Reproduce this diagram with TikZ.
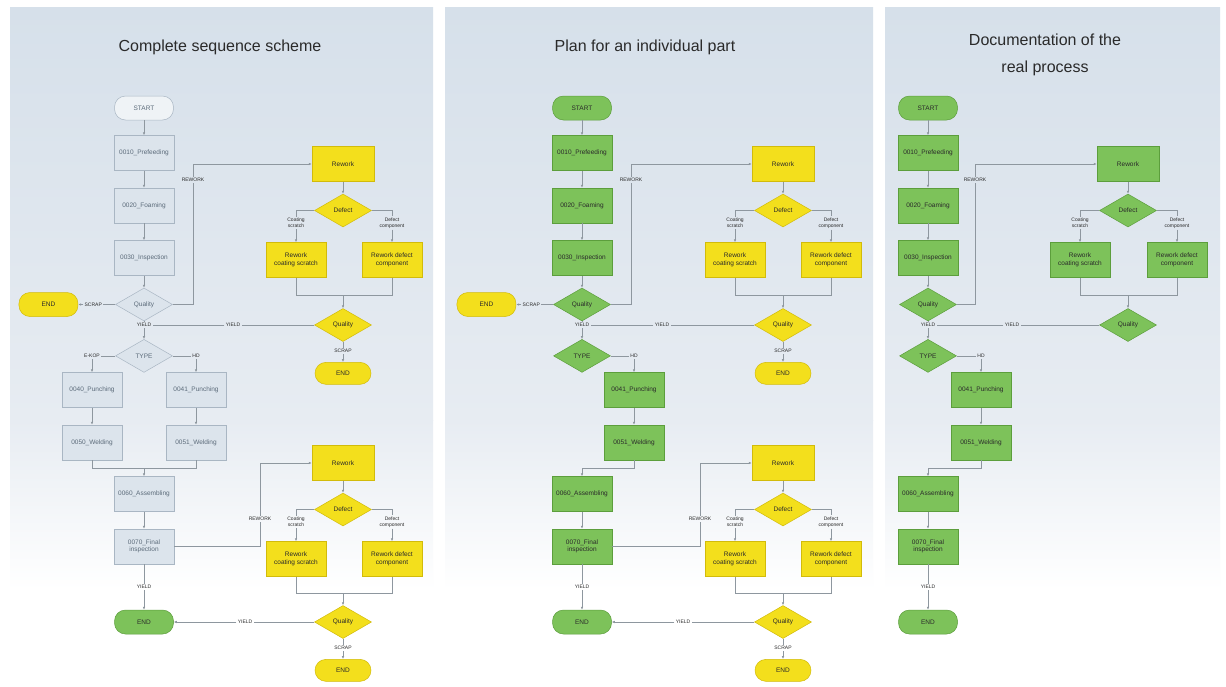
\documentclass[tikz,border=0pt]{standalone}
\usepackage{fontspec}
\setmainfont{Liberation Sans}
\usepackage{xcolor}
\definecolor{BgTop}{HTML}{D6E0EA}
\definecolor{BgMid}{HTML}{E7ECF2}
\definecolor{LineGray}{HTML}{8E979F}
\definecolor{TextDark}{HTML}{2A2A2A}
\definecolor{GrayFill}{HTML}{DCE4EC}
\definecolor{GrayEdge}{HTML}{A9B6C3}
\definecolor{GrayText}{HTML}{5C6B7A}
\definecolor{YelFill}{HTML}{F3DF1C}
\definecolor{YelEdge}{HTML}{D2BB0A}
\definecolor{GrnFill}{HTML}{7DC25A}
\definecolor{GrnEdge}{HTML}{5C9E3C}
\usepackage{tikz}
\usetikzlibrary{arrows.meta,positioning,shapes.geometric}
\newcommand\boxfont{\fontsize{6.5}{7.5}\selectfont}
\newcommand\lblfont{\fontsize{5}{6}\selectfont}
\newcommand\headfont{\fontsize{16}{27}\selectfont}

\begin{document}
\begin{tikzpicture}[x=1pt,y=-1pt,
  proc/.style={draw,align=center,font=\boxfont,minimum width=60pt,minimum height=35pt,inner sep=1pt,line width=0.5pt},
  term/.style={draw,rounded corners=11pt,font=\boxfont,minimum width=59pt,minimum height=24pt,line width=0.5pt},
  dec/.style={draw,diamond,aspect=1.7,font=\boxfont,minimum width=57pt,minimum height=33pt,inner sep=0pt,line width=0.5pt},
  lbl/.style={font=\lblfont,text=TextDark,inner sep=1.2pt,align=center},
  gry/.style={fill=GrayFill,draw=GrayEdge,text=GrayText},
  yel/.style={fill=YelFill,draw=YelEdge,text=TextDark},
  grn/.style={fill=GrnFill,draw=GrnEdge,text=TextDark},
  flow/.style={draw=LineGray,line width=0.6pt},
  arr/.style={flow,-{Latex[length=3pt,width=2.6pt]}},
  headline/.style={font=\headfont,text=TextDark,align=center}
]
  \useasboundingbox (0,0) rectangle (1226,686);
  \fill[white] (0,0) rectangle (1226,686);
  % panel backgrounds
  \shade[top color=BgTop,bottom color=BgMid] (10,7) rectangle (433,420);
  \shade[top color=BgMid,bottom color=white] (10,420) rectangle (433,590);
  \shade[top color=BgTop,bottom color=BgMid] (445,7) rectangle (873,420);
  \shade[top color=BgMid,bottom color=white] (445,420) rectangle (873,590);
  \shade[top color=BgTop,bottom color=BgMid] (885,7) rectangle (1220,420);
  \shade[top color=BgMid,bottom color=white] (885,420) rectangle (1220,590);

  % complete sequence scheme
  \node[headline] (t1) at (220,47) {Complete sequence scheme};
  \node[term,gry,fill=GrayFill!45!white] (s1) at (144,108) {START};
  \node[proc,gry,below=15pt of s1] (pre1) {0010\_Prefeeding};
  \node[proc,gry,below=17pt of pre1] (foam1) {0020\_Foaming};
  \node[proc,gry,below=17pt of foam1] (insp1) {0030\_Inspection};
  \node[dec,gry,below=12pt of insp1] (q1) {Quality};
  \node[lbl,left=12pt of q1] (scrap1) {SCRAP};
  \node[term,yel,left=5pt of scrap1] (end1) {END};
  \draw[arr] (s1) -- (pre1);
  \draw[arr] (pre1) -- (foam1);
  \draw[arr] (foam1) -- (insp1);
  \draw[arr] (insp1) -- (q1);
  \draw[flow] (q1) -- (scrap1);
  \draw[arr] (scrap1) -- (end1);

  \node[lbl] (rw1) at (193,180) {REWORK};
  \node[proc,yel,minimum width=62pt] (rwk1) at (343,164) {Rework};
  \node[dec,yel,below=12pt of rwk1] (d1) {Defect};
  \node[lbl] (cs1) at (296,223) {Coating\\scratch};
  \node[lbl] (dc1) at (392,223) {Defect\\component};
  \node[proc,yel] (rcs1) at (296,260) {Rework\\coating scratch};
  \node[proc,yel] (rdc1) at (392,260) {Rework defect\\component};
  \coordinate (m1) at (343,295);
  \node[dec,yel] (q2) at (343,325) {Quality};
  \node[lbl] (y1) at (q1 |- q2) {YIELD};
  \node[lbl] (y1b) at (233,325) {YIELD};
  \node[lbl,below=6pt of q2] (scrap2) {SCRAP};
  \node[term,yel,below=8pt of scrap2,minimum width=56pt,minimum height=22pt] (end2) {END};
  \draw[flow] (q1.east) -| (rw1);
  \draw[arr] (rw1) |- (rwk1);
  \draw[arr] (rwk1) -- (d1);
  \draw[flow] (d1.west) -| (cs1);
  \draw[flow] (d1.east) -| (dc1);
  \draw[arr] (cs1) -- (rcs1);
  \draw[arr] (dc1) -- (rdc1);
  \draw[flow] (rcs1) |- (m1);
  \draw[flow] (rdc1) |- (m1);
  \draw[arr] (m1) -- (q2);
  \draw[flow] (q1) -- (y1);
  \draw[flow] (q2) -- (y1b);
  \draw[flow] (y1b) -- (y1);
  \draw[flow] (q2) -- (scrap2);
  \draw[arr] (scrap2) -- (end2);

  \node[dec,gry,below=11pt of y1] (ty1) {TYPE};
  \node[proc,gry] (pu1) at (92,390) {0040\_Punching};
  \node[proc,gry] (pu2) at (196,390) {0041\_Punching};
  \node[lbl] (ek1) at (pu1 |- ty1) {E-KOP};
  \node[lbl] (hd1) at (pu2 |- ty1) {HD};
  \node[proc,gry,below=17pt of pu1] (we1) {0050\_Welding};
  \node[proc,gry,below=17pt of pu2] (we2) {0051\_Welding};
  \coordinate (j1) at (144,468);
  \node[proc,gry] (as1) at (144,494) {0060\_Assembling};
  \node[proc,gry,below=17pt of as1] (fin1) {0070\_Final\\inspection};
  \draw[arr] (y1) -- (ty1);
  \draw[flow] (ty1) -- (ek1);
  \draw[flow] (ty1) -- (hd1);
  \draw[arr] (ek1) -- (pu1);
  \draw[arr] (hd1) -- (pu2);
  \draw[arr] (pu1) -- (we1);
  \draw[arr] (pu2) -- (we2);
  \draw[flow] (we1) |- (j1);
  \draw[flow] (we2) |- (j1);
  \draw[arr] (j1) -- (as1);
  \draw[arr] (as1) -- (fin1);

  \node[lbl] (rw2) at (260,519) {REWORK};
  \node[proc,yel,minimum width=62pt] (rwk2) at (343,463) {Rework};
  \node[dec,yel,below=12pt of rwk2] (d2) {Defect};
  \node[lbl] (cs2) at (296,522) {Coating\\scratch};
  \node[lbl] (dc2) at (392,522) {Defect\\component};
  \node[proc,yel] (rcs2) at (296,559) {Rework\\coating scratch};
  \node[proc,yel] (rdc2) at (392,559) {Rework defect\\component};
  \coordinate (m2) at (343,593);
  \node[dec,yel] (q3) at (343,622) {Quality};
  \node[term,grn] (eg1) at (144,622) {END};
  \node[lbl] (y3) at (245,622) {YIELD};
  \node[lbl] (y4) at (144,587) {YIELD};
  \node[lbl,below=6pt of q3] (scrap3) {SCRAP};
  \node[term,yel,below=8pt of scrap3,minimum width=56pt,minimum height=22pt] (end3) {END};
  \draw[flow] (fin1.east) -| (rw2);
  \draw[arr] (rw2) |- (rwk2);
  \draw[arr] (rwk2) -- (d2);
  \draw[flow] (d2.west) -| (cs2);
  \draw[flow] (d2.east) -| (dc2);
  \draw[arr] (cs2) -- (rcs2);
  \draw[arr] (dc2) -- (rdc2);
  \draw[flow] (rcs2) |- (m2);
  \draw[flow] (rdc2) |- (m2);
  \draw[arr] (m2) -- (q3);
  \draw[flow] (q3) -- (y3);
  \draw[arr] (y3) -- (eg1);
  \draw[flow] (fin1) -- (y4);
  \draw[arr] (y4) -- (eg1);
  \draw[flow] (q3) -- (scrap3);
  \draw[arr] (scrap3) -- (end3);

  % plan for an individual part
  \node[headline] (t2) at (645,47) {Plan for an individual part};
  \node[term,grn] (s2) at (582,108) {START};
  \node[proc,grn,below=15pt of s2] (pre2) {0010\_Prefeeding};
  \node[proc,grn,below=17pt of pre2] (foam2) {0020\_Foaming};
  \node[proc,grn,below=17pt of foam2] (insp2) {0030\_Inspection};
  \node[dec,grn,below=12pt of insp2] (q4) {Quality};
  \node[lbl,left=12pt of q4] (scrap4) {SCRAP};
  \node[term,yel,left=5pt of scrap4] (end4) {END};
  \draw[arr] (s2) -- (pre2);
  \draw[arr] (pre2) -- (foam2);
  \draw[arr] (foam2) -- (insp2);
  \draw[arr] (insp2) -- (q4);
  \draw[flow] (q4) -- (scrap4);
  \draw[arr] (scrap4) -- (end4);

  \node[lbl] (rw3) at (631,180) {REWORK};
  \node[proc,yel,minimum width=62pt] (rwk3) at (783,164) {Rework};
  \node[dec,yel,below=12pt of rwk3] (d3) {Defect};
  \node[lbl] (cs3) at (735,223) {Coating\\scratch};
  \node[lbl] (dc3) at (831,223) {Defect\\component};
  \node[proc,yel] (rcs3) at (735,260) {Rework\\coating scratch};
  \node[proc,yel] (rdc3) at (831,260) {Rework defect\\component};
  \coordinate (m3) at (783,295);
  \node[dec,yel] (q5) at (783,325) {Quality};
  \node[lbl] (y5) at (q4 |- q5) {YIELD};
  \node[lbl] (y5b) at (662,325) {YIELD};
  \node[lbl,below=6pt of q5] (scrap5) {SCRAP};
  \node[term,yel,below=8pt of scrap5,minimum width=56pt,minimum height=22pt] (end5) {END};
  \draw[flow] (q4.east) -| (rw3);
  \draw[arr] (rw3) |- (rwk3);
  \draw[arr] (rwk3) -- (d3);
  \draw[flow] (d3.west) -| (cs3);
  \draw[flow] (d3.east) -| (dc3);
  \draw[arr] (cs3) -- (rcs3);
  \draw[arr] (dc3) -- (rdc3);
  \draw[flow] (rcs3) |- (m3);
  \draw[flow] (rdc3) |- (m3);
  \draw[arr] (m3) -- (q5);
  \draw[flow] (q4) -- (y5);
  \draw[flow] (q5) -- (y5b);
  \draw[flow] (y5b) -- (y5);
  \draw[flow] (q5) -- (scrap5);
  \draw[arr] (scrap5) -- (end5);

  \node[dec,grn,below=11pt of y5] (ty2) {TYPE};
  \node[proc,grn] (pu3) at (634,390) {0041\_Punching};
  \node[lbl] (hd2) at (pu3 |- ty2) {HD};
  \node[proc,grn,below=17pt of pu3] (we3) {0051\_Welding};
  \coordinate (j2) at (582,468);
  \node[proc,grn] (as2) at (582,494) {0060\_Assembling};
  \node[proc,grn,below=17pt of as2] (fin2) {0070\_Final\\inspection};
  \draw[arr] (y5) -- (ty2);
  \draw[flow] (ty2) -- (hd2);
  \draw[arr] (hd2) -- (pu3);
  \draw[arr] (pu3) -- (we3);
  \draw[flow] (we3) |- (j2);
  \draw[arr] (j2) -- (as2);
  \draw[arr] (as2) -- (fin2);

  \node[lbl] (rw4) at (700,519) {REWORK};
  \node[proc,yel,minimum width=62pt] (rwk4) at (783,463) {Rework};
  \node[dec,yel,below=12pt of rwk4] (d4) {Defect};
  \node[lbl] (cs4) at (735,522) {Coating\\scratch};
  \node[lbl] (dc4) at (831,522) {Defect\\component};
  \node[proc,yel] (rcs4) at (735,559) {Rework\\coating scratch};
  \node[proc,yel] (rdc4) at (831,559) {Rework defect\\component};
  \coordinate (m4) at (783,593);
  \node[dec,yel] (q6) at (783,622) {Quality};
  \node[term,grn] (eg2) at (582,622) {END};
  \node[lbl] (y6) at (683,622) {YIELD};
  \node[lbl] (y7) at (582,587) {YIELD};
  \node[lbl,below=6pt of q6] (scrap6) {SCRAP};
  \node[term,yel,below=8pt of scrap6,minimum width=56pt,minimum height=22pt] (end6) {END};
  \draw[flow] (fin2.east) -| (rw4);
  \draw[arr] (rw4) |- (rwk4);
  \draw[arr] (rwk4) -- (d4);
  \draw[flow] (d4.west) -| (cs4);
  \draw[flow] (d4.east) -| (dc4);
  \draw[arr] (cs4) -- (rcs4);
  \draw[arr] (dc4) -- (rdc4);
  \draw[flow] (rcs4) |- (m4);
  \draw[flow] (rdc4) |- (m4);
  \draw[arr] (m4) -- (q6);
  \draw[flow] (q6) -- (y6);
  \draw[arr] (y6) -- (eg2);
  \draw[flow] (fin2) -- (y7);
  \draw[arr] (y7) -- (eg2);
  \draw[flow] (q6) -- (scrap6);
  \draw[arr] (scrap6) -- (end6);

  % documentation of the real process
  \node[headline] (t3) at (1045,55) {Documentation of the\\real process};
  \node[term,grn] (s3) at (928,108) {START};
  \node[proc,grn,below=15pt of s3] (pre3) {0010\_Prefeeding};
  \node[proc,grn,below=17pt of pre3] (foam3) {0020\_Foaming};
  \node[proc,grn,below=17pt of foam3] (insp3) {0030\_Inspection};
  \node[dec,grn,below=12pt of insp3] (q7) {Quality};
  \draw[arr] (s3) -- (pre3);
  \draw[arr] (pre3) -- (foam3);
  \draw[arr] (foam3) -- (insp3);
  \draw[arr] (insp3) -- (q7);

  \node[lbl] (rw5) at (975,180) {REWORK};
  \node[proc,grn,minimum width=62pt] (rwk5) at (1128,164) {Rework};
  \node[dec,grn,below=12pt of rwk5] (d5) {Defect};
  \node[lbl] (cs5) at (1080,223) {Coating\\scratch};
  \node[lbl] (dc5) at (1177,223) {Defect\\component};
  \node[proc,grn] (rcs5) at (1080,260) {Rework\\coating scratch};
  \node[proc,grn] (rdc5) at (1177,260) {Rework defect\\component};
  \coordinate (m5) at (1128,295);
  \node[dec,grn] (q8) at (1128,325) {Quality};
  \node[lbl] (y8) at (q7 |- q8) {YIELD};
  \node[lbl] (y8b) at (1012,325) {YIELD};
  \draw[flow] (q7.east) -| (rw5);
  \draw[arr] (rw5) |- (rwk5);
  \draw[arr] (rwk5) -- (d5);
  \draw[flow] (d5.west) -| (cs5);
  \draw[flow] (d5.east) -| (dc5);
  \draw[arr] (cs5) -- (rcs5);
  \draw[arr] (dc5) -- (rdc5);
  \draw[flow] (rcs5) |- (m5);
  \draw[flow] (rdc5) |- (m5);
  \draw[arr] (m5) -- (q8);
  \draw[flow] (q7) -- (y8);
  \draw[flow] (q8) -- (y8b);
  \draw[flow] (y8b) -- (y8);

  \node[dec,grn,below=11pt of y8] (ty3) {TYPE};
  \node[proc,grn] (pu5) at (981,390) {0041\_Punching};
  \node[lbl] (hd3) at (pu5 |- ty3) {HD};
  \node[proc,grn,below=17pt of pu5] (we5) {0051\_Welding};
  \coordinate (j3) at (928,468);
  \node[proc,grn] (as3) at (928,494) {0060\_Assembling};
  \node[proc,grn,below=17pt of as3] (fin3) {0070\_Final\\inspection};
  \node[lbl] (y9) at (928,587) {YIELD};
  \node[term,grn] (eg3) at (928,622) {END};
  \draw[arr] (y8) -- (ty3);
  \draw[flow] (ty3) -- (hd3);
  \draw[arr] (hd3) -- (pu5);
  \draw[arr] (pu5) -- (we5);
  \draw[flow] (we5) |- (j3);
  \draw[arr] (j3) -- (as3);
  \draw[arr] (as3) -- (fin3);
  \draw[flow] (fin3) -- (y9);
  \draw[arr] (y9) -- (eg3);
\end{tikzpicture}
\end{document}
